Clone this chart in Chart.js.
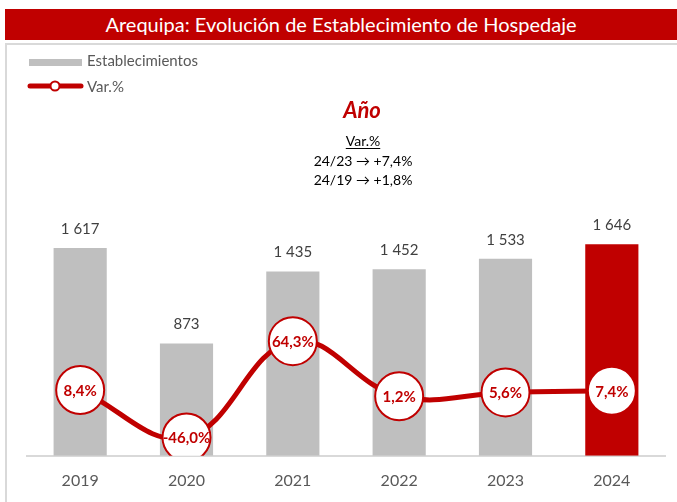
<!DOCTYPE html>
<html>
<head>
<meta charset="utf-8">
<script src="https://cdn.jsdelivr.net/npm/chart.js@4/dist/chart.umd.min.js"></script>
<style>
  body { margin: 0; background: #fff; font-family: Lato, "Open Sans", sans-serif; }
  #wrap { position: relative; width: 677px; height: 502px; overflow: hidden; }
  #title {
    position: absolute; left: 5px; top: 9px; width: 672px; height: 31px;
    background: #C00000; color: #fff; font-size: 20px; line-height: 31px; text-align: center;
  }
  #box {
    position: absolute; left: 5px; top: 43px; width: 680px; height: 470px;
    border-left: 2px solid #D9D9D9; border-top: 2px solid #D9D9D9;
  }
  canvas { position: absolute; left: 0; top: 0; }
</style>
</head>
<body>
<div id="wrap">
  <div id="title">Arequipa: Evolución de Establecimiento de Hospedaje</div>
  <div id="box"></div>
  <canvas id="chart" width="677" height="502"></canvas>
</div>
<script>
const years = ["2019", "2020", "2021", "2022", "2023", "2024"];
const establecimientos = [1617, 873, 1435, 1452, 1533, 1646];
const variacion = [8.4, -46.0, 64.3, 1.2, 5.6, 7.4];
const barColors = ["#BFBFBF", "#BFBFBF", "#BFBFBF", "#BFBFBF", "#BFBFBF", "#C00000"];
const noteLines = ["24/23 \u2192 +7,4%", "24/19 \u2192 +1,8%"];

const RED = "#C00000";
const FONT = "Lato, 'Open Sans', sans-serif";

function fmtThousands(v) {
  return String(v).replace(/\B(?=(\d{3})+(?!\d))/g, " ");
}
function fmtPct(v) {
  return v.toFixed(1).replace(".", ",") + "%";
}

// labels, legend and the "Año" note
const extras = {
  id: "extras",
  afterDatasetsDraw(chart) {
    let ctx = chart.ctx;
    ctx.save();

    // bar values
    let barMeta = chart.getDatasetMeta(1);
    ctx.font = "15px " + FONT;
    ctx.fillStyle = "#404040";
    ctx.textAlign = "center";
    ctx.textBaseline = "middle";
    barMeta.data.forEach(function (bar, i) {
      ctx.fillText(fmtThousands(establecimientos[i]), bar.x, bar.y - 19);
    });

    // percent labels in circles
    let lineMeta = chart.getDatasetMeta(0);
    ctx.font = "bold 15px " + FONT;
    ctx.fillStyle = RED;
    lineMeta.data.forEach(function (pt, i) {
      ctx.fillText(fmtPct(variacion[i]), pt.x, pt.y + 1);
    });

    // legend
    ctx.fillStyle = "#BFBFBF";
    ctx.fillRect(29, 59, 53, 7);
    ctx.strokeStyle = RED;
    ctx.lineWidth = 5;
    ctx.lineCap = "round";
    ctx.beginPath();
    ctx.moveTo(30, 86);
    ctx.lineTo(81, 86);
    ctx.stroke();
    ctx.beginPath();
    ctx.arc(55, 86, 4.5, 0, Math.PI * 2);
    ctx.fillStyle = "#fff";
    ctx.fill();
    ctx.lineWidth = 2;
    ctx.stroke();
    ctx.font = "15px " + FONT;
    ctx.fillStyle = "#595959";
    ctx.textAlign = "left";
    ctx.fillText("Establecimientos", 87, 61);
    ctx.fillText("Var.%", 87, 87);

    // note
    ctx.textAlign = "center";
    ctx.font = "italic bold 22px " + FONT;
    ctx.fillStyle = RED;
    ctx.fillText("Año", 362, 111);
    ctx.font = "14px " + FONT;
    ctx.fillStyle = "#000";
    ctx.fillText("Var.%", 363, 141);
    let w = ctx.measureText("Var.%").width;
    ctx.fillRect(363 - w / 2, 148, w, 1);
    noteLines.forEach(function (t, i) {
      ctx.fillText(t, 363, 161 + i * 19);
    });

    ctx.restore();
  }
};

new Chart(document.getElementById("chart"), {
  type: "bar",
  data: {
    labels: years,
    datasets: [
      {
        type: "line",
        label: "Var.%",
        data: variacion,
        yAxisID: "y2",
        borderColor: RED,
        borderWidth: 5,
        tension: 0.4,
        pointRadius: 24,
        pointBackgroundColor: "#fff",
        pointBorderColor: RED,
        pointBorderWidth: 2,
        order: 0
      },
      {
        label: "Establecimientos",
        data: establecimientos,
        yAxisID: "y",
        backgroundColor: barColors,
        barPercentage: 0.5,
        categoryPercentage: 1,
        order: 1
      }
    ]
  },
  options: {
    responsive: false,
    animation: false,
    layout: { autoPadding: false, padding: { left: 27, right: 12, top: 96, bottom: 5 } },
    plugins: {
      legend: { display: false },
      tooltip: { enabled: false }
    },
    scales: {
      x: {
        grid: { display: false },
        border: { display: true, color: "#D9D9D9", width: 2 },
        ticks: { color: "#595959", font: { size: 16, family: FONT }, padding: 7 }
      },
      y: { display: false, min: 0, max: 2800 },
      y2: { display: false, min: -67, max: 345 }
    }
  },
  plugins: [extras]
});
</script>
</body>
</html>
